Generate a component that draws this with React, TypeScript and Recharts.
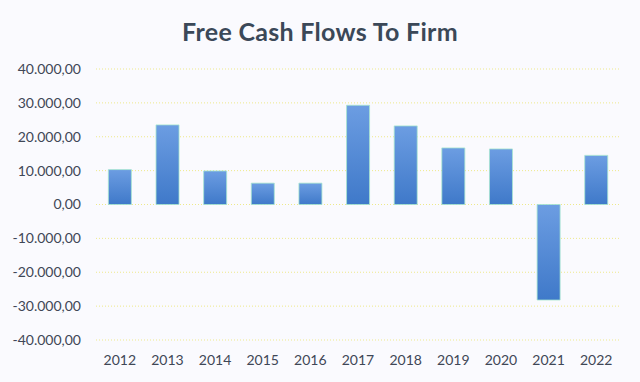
import { BarChart, Bar, XAxis, YAxis, CartesianGrid } from "recharts";

const years = ["2012", "2013", "2014", "2015", "2016", "2017", "2018", "2019", "2020", "2021", "2022"];
const fcff = [10300, 23500, 9900, 6300, 6300, 29300, 23200, 16700, 16400, -28200, 14500];
const yTicks = [-40000, -30000, -20000, -10000, 0, 10000, 20000, 30000, 40000];

const chartData = years.map((year, i) => ({ year, fcff: fcff[i] }));

// 40000 -> "40.000,00"
function formatEuro(v: number) {
  const sign = v < 0 ? "-" : "";
  const int = Math.abs(v)
    .toFixed(0)
    .replace(/\B(?=(\d{3})+(?!\d))/g, ".");
  return `${sign}${int},00`;
}

const FONT = "Lato, 'Open Sans', sans-serif";

function App() {
  return (
    <div
      style={{
        position: "absolute",
        left: 0,
        top: 0,
        width: 640,
        height: 382,
        background: "#fafafe",
        fontFamily: FONT,
      }}
    >
      <div
        style={{
          position: "absolute",
          top: 16,
          width: 640,
          textAlign: "center",
          fontSize: 25,
          fontWeight: 700,
          color: "#3b4858",
          letterSpacing: 0.3,
        }}
      >
        Free Cash Flows To Firm
      </div>
      <BarChart
        width={640}
        height={382}
        data={chartData}
        margin={{ top: 69, right: 20, left: 0, bottom: 0 }}
        barCategoryGap="26%"
      >
        <defs>
          <linearGradient id="barFill" x1="0" y1="0" x2="0" y2="1">
            <stop offset="0%" stopColor="#6c9de2" />
            <stop offset="100%" stopColor="#3f79c9" />
          </linearGradient>
        </defs>
        <CartesianGrid
          vertical={false}
          stroke="#eee98a"
          strokeDasharray="1 2"
        />
        <XAxis
          dataKey="year"
          axisLine={false}
          tickLine={false}
          tickSize={0}
          tickMargin={15}
          height={42}
          interval={0}
          tick={{ fill: "#3f4756", fontSize: 14, fontFamily: FONT }}
        />
        <YAxis
          domain={[-40000, 40000]}
          ticks={yTicks}
          tickFormatter={formatEuro}
          axisLine={false}
          tickLine={false}
          tickSize={0}
          tickMargin={15}
          width={96}
          tick={{ fill: "#3f4756", fontSize: 14, fontFamily: FONT }}
        />
        <Bar
          dataKey="fcff"
          fill="url(#barFill)"
          stroke="#a6e6cf"
          strokeWidth={0.8}
          isAnimationActive={false}
        />
      </BarChart>
    </div>
  );
}

export default App;
